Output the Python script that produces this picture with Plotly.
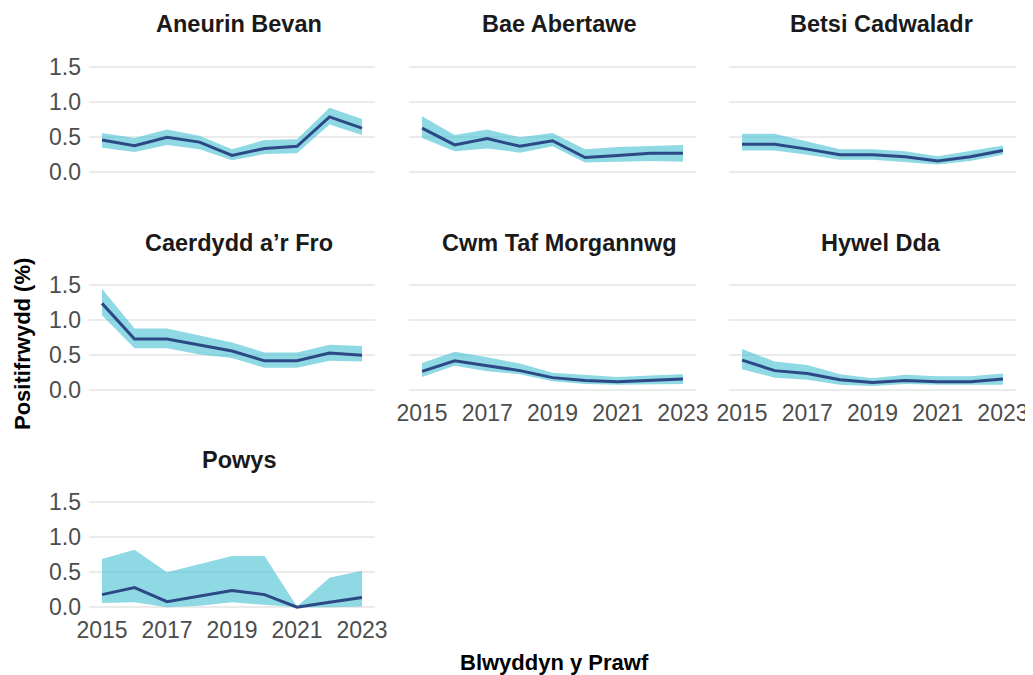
"""Positivity rate by health board, faceted line + ribbon chart."""

import plotly.graph_objects as go

# the page body keeps an 8px margin, so the figure is shifted by OFF
OFF = 8
W, H = 1033 - OFF, 675 - OFF

years = [2015, 2016, 2017, 2018, 2019, 2020, 2021, 2022, 2023]
boards = [
    "Aneurin Bevan",
    "Bae Abertawe",
    "Betsi Cadwaladr",
    "Caerdydd a\u2019r Fro",
    "Cwm Taf Morgannwg",
    "Hywel Dda",
    "Powys",
]

aneurin_bevan_rate = [0.46, 0.38, 0.50, 0.43, 0.24, 0.34, 0.37, 0.79, 0.63]
aneurin_bevan_low = [0.35, 0.29, 0.39, 0.33, 0.17, 0.26, 0.27, 0.68, 0.53]
aneurin_bevan_high = [0.56, 0.49, 0.61, 0.52, 0.33, 0.46, 0.47, 0.92, 0.76]

bae_abertawe_rate = [0.63, 0.39, 0.48, 0.37, 0.45, 0.21, 0.24, 0.27, 0.27]
bae_abertawe_low = [0.49, 0.30, 0.34, 0.28, 0.37, 0.14, 0.15, 0.16, 0.15]
bae_abertawe_high = [0.80, 0.53, 0.61, 0.50, 0.56, 0.33, 0.36, 0.38, 0.39]

betsi_cadwaladr_rate = [0.40, 0.40, 0.33, 0.25, 0.25, 0.22, 0.16, 0.22, 0.31]
betsi_cadwaladr_low = [0.31, 0.31, 0.25, 0.18, 0.18, 0.15, 0.11, 0.16, 0.25]
betsi_cadwaladr_high = [0.55, 0.55, 0.44, 0.33, 0.33, 0.30, 0.23, 0.30, 0.38]

caerdydd_rate = [1.24, 0.73, 0.73, 0.65, 0.56, 0.42, 0.42, 0.53, 0.50]
caerdydd_low = [1.07, 0.60, 0.60, 0.51, 0.46, 0.32, 0.32, 0.42, 0.41]
caerdydd_high = [1.45, 0.88, 0.88, 0.78, 0.68, 0.54, 0.54, 0.65, 0.63]

cwm_taf_rate = [0.27, 0.42, 0.35, 0.28, 0.18, 0.14, 0.12, 0.14, 0.16]
cwm_taf_low = [0.19, 0.35, 0.27, 0.23, 0.13, 0.09, 0.08, 0.09, 0.09]
cwm_taf_high = [0.39, 0.55, 0.47, 0.38, 0.25, 0.22, 0.19, 0.21, 0.23]

hywel_dda_rate = [0.43, 0.28, 0.24, 0.15, 0.11, 0.14, 0.12, 0.12, 0.16]
hywel_dda_low = [0.30, 0.18, 0.15, 0.08, 0.06, 0.09, 0.08, 0.08, 0.08]
hywel_dda_high = [0.59, 0.41, 0.36, 0.23, 0.17, 0.22, 0.20, 0.20, 0.24]

powys_rate = [0.18, 0.28, 0.08, 0.16, 0.24, 0.18, 0.00, 0.07, 0.14]
powys_low = [0.06, 0.07, 0.00, 0.02, 0.07, 0.04, 0.00, 0.00, 0.01]
powys_high = [0.69, 0.82, 0.50, 0.62, 0.73, 0.73, 0.01, 0.42, 0.52]

series = [
    (aneurin_bevan_rate, aneurin_bevan_low, aneurin_bevan_high),
    (bae_abertawe_rate, bae_abertawe_low, bae_abertawe_high),
    (betsi_cadwaladr_rate, betsi_cadwaladr_low, betsi_cadwaladr_high),
    (caerdydd_rate, caerdydd_low, caerdydd_high),
    (cwm_taf_rate, cwm_taf_low, cwm_taf_high),
    (hywel_dda_rate, hywel_dda_low, hywel_dda_high),
    (powys_rate, powys_low, powys_high),
]

x_ticks = [2015, 2017, 2019, 2021, 2023]
y_ticks = [0, 0.5, 1.0, 1.5]
y_tick_text = ["0.0", "0.5", "1.0", "1.5"]

# panel positions in window pixels (left, right) and (top, bottom)
col_px = [(89, 375), (409, 696), (729, 1016)]
row_px = [(64, 177.5), (282, 395.5), (499, 612.5)]
title_x_px = [239, 559, 881]
title_y_px = [24, 243, 460]

FONT = "Liberation Sans, Arial, sans-serif"
LINE_COLOR = "#2d4985"
FILL_COLOR = "rgba(72, 193, 212, 0.62)"


def fx(px):
    return (px - OFF) / W


def fy(px):
    return 1 - (px - OFF) / H


fig = go.Figure()

for i, (board, (rate, low, high)) in enumerate(zip(boards, series)):
    row, col = divmod(i, 3)
    n = "" if i == 0 else str(i + 1)
    xa, ya = f"x{n}", f"y{n}"

    fig.add_trace(
        go.Scatter(
            x=years, y=low, mode="lines", line={"width": 0},
            hoverinfo="skip", showlegend=False, xaxis=xa, yaxis=ya,
        )
    )
    fig.add_trace(
        go.Scatter(
            x=years, y=high, mode="lines", line={"width": 0},
            fill="tonexty", fillcolor=FILL_COLOR,
            hoverinfo="skip", showlegend=False, xaxis=xa, yaxis=ya,
        )
    )
    fig.add_trace(
        go.Scatter(
            x=years, y=rate, mode="lines",
            line={"color": LINE_COLOR, "width": 3},
            name=board, showlegend=False, xaxis=xa, yaxis=ya,
        )
    )

    left, right = col_px[col]
    top, bottom = row_px[row]
    # x labels on the lowest panel of each column
    show_x = (row == 2) or (row == 1 and col > 0)

    fig.update_layout(
        {
            f"xaxis{n}": {
                "domain": [fx(left), fx(right)],
                "anchor": ya,
                "range": [2014.6, 2023.4],
                "tickvals": x_ticks,
                "showticklabels": show_x,
                "showgrid": False,
                "zeroline": False,
                "showline": False,
                "ticks": "",
                "ticklabelstandoff": 1,
                "tickfont": {"family": FONT, "size": 23, "color": "#4d4d4d"},
                "automargin": False,
            },
            f"yaxis{n}": {
                "domain": [fy(bottom), fy(top)],
                "anchor": xa,
                "range": [-0.075, 1.545],
                "tickvals": y_ticks,
                "ticktext": y_tick_text,
                "showticklabels": col == 0,
                "showgrid": True,
                "gridcolor": "#ebebeb",
                "gridwidth": 1.5,
                "zeroline": False,
                "showline": False,
                "ticks": "",
                "ticklabelstandoff": 7,
                "tickfont": {"family": FONT, "size": 23, "color": "#4d4d4d"},
                "automargin": False,
            },
        }
    )

    fig.add_annotation(
        text=f"<b>{board}</b>",
        x=fx(title_x_px[col]), y=fy(title_y_px[row]),
        xref="paper", yref="paper", xanchor="center", yanchor="middle",
        showarrow=False,
        font={"family": FONT, "size": 23.5, "color": "#1a1a1a"},
    )

fig.add_annotation(
    text="<b>Positifrwydd (%)</b>",
    x=fx(22), y=fy(344), xref="paper", yref="paper",
    xanchor="center", yanchor="middle", textangle=-90, showarrow=False,
    font={"family": FONT, "size": 22, "color": "#000000"},
)
fig.add_annotation(
    text="<b>Blwyddyn y Prawf</b>",
    x=fx(554), y=fy(662), xref="paper", yref="paper",
    xanchor="center", yanchor="middle", showarrow=False,
    font={"family": FONT, "size": 22, "color": "#000000"},
)

fig.update_layout(
    width=W,
    height=H,
    margin={"l": 0, "r": 0, "t": 0, "b": 0},
    paper_bgcolor="white",
    plot_bgcolor="white",
    font={"family": FONT},
)

fig.write_html("out.html")
